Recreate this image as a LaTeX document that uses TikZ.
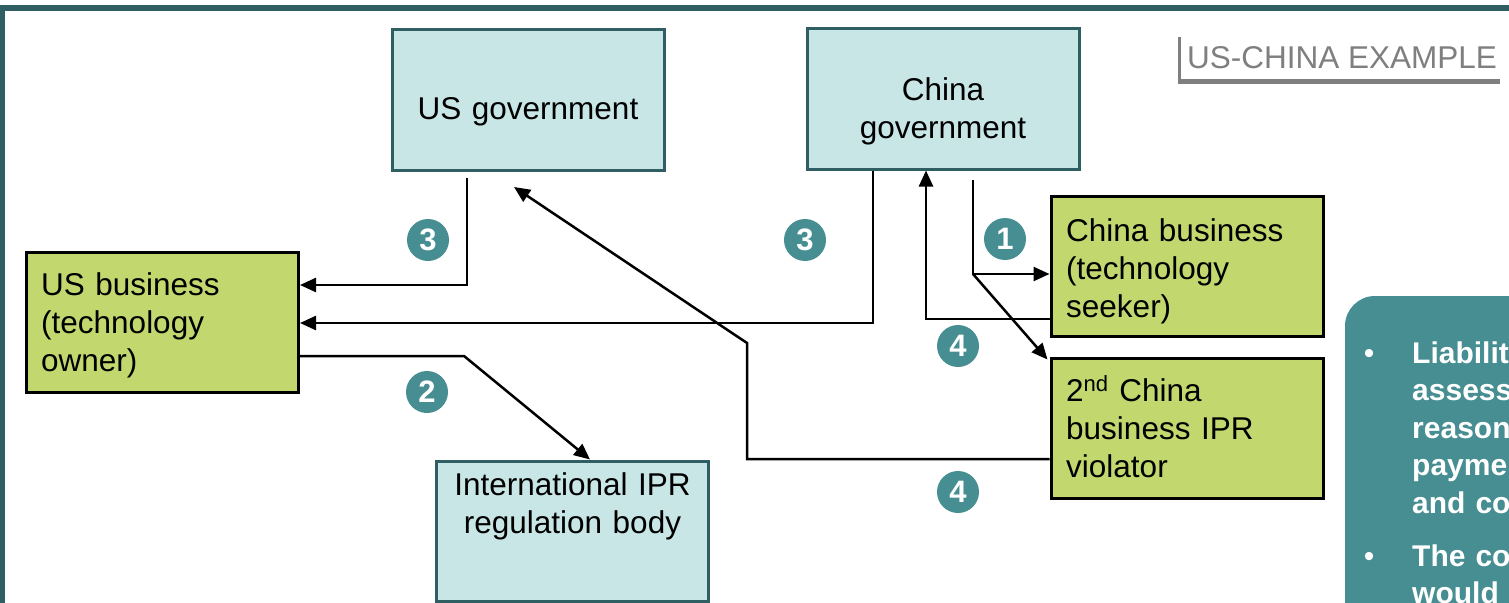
\documentclass[tikz,border=0pt]{standalone}
\usepackage{fontspec}
\setmainfont{Liberation Sans}
\usetikzlibrary{arrows.meta}
\definecolor{frameteal}{HTML}{2F5F63}
\definecolor{paleblue}{HTML}{C8E6E6}
\definecolor{leaf}{HTML}{C3D76F}
\definecolor{badgeteal}{HTML}{468E92}
\definecolor{tagray}{HTML}{7F7F7F}
\begin{document}
\begin{tikzpicture}[x=1pt,y=-1pt,
  govbox/.style={draw=frameteal, fill=paleblue, line width=3pt,
    minimum width=272pt, minimum height=140pt, inner sep=0pt},
  firmbox/.style={draw=black, fill=leaf, line width=3pt,
    minimum width=272pt, minimum height=140pt, inner sep=0pt},
  boxtext/.style={inner sep=0pt, text width=260pt,
    font=\fontsize{31.5}{38}\selectfont},
  badge/.style={circle, fill=badgeteal, minimum size=42pt, inner sep=0pt,
    text=white, font=\bfseries\fontsize{31}{31}\selectfont},
  arr/.style={draw=black, line width=2.5pt, line join=miter,
    -{Triangle[length=16pt,width=14pt]}},
  paneltext/.style={inner sep=0pt, text=white, text width=400pt, align=left,
    font=\bfseries\fontsize{30}{37.5}\selectfont},
]
\clip (0,0) rectangle (1509,602);
\fill[white] (0,0) rectangle (1509,602);

% outer frame
\draw[frameteal, line width=6pt] (2,640) -- (2,8) -- (1540,8);

% heading tag
\node[anchor=base west, inner sep=0pt, text=tagray,
  font=\fontsize{31.5}{38}\selectfont] (tag) at (1187,69) {US-CHINA EXAMPLE};
\draw[tagray, line width=3pt] (1179.5,37) -- (1179.5,81);
\fill[tagray] (1178,79) rectangle (1500,84);

% side panel
\fill[badgeteal, rounded corners=30pt] (1345,296) rectangle (1620,720);
\node[anchor=base, inner sep=0pt, text=white, font=\fontsize{30}{30}\selectfont] (bul1) at (1369,363) {\textbullet};
\node[anchor=base west, paneltext] (pan1) at (1412,363)
  {Liability\\assessment\\reasonable\\payment\\and compensation};
\node[anchor=base, inner sep=0pt, text=white, font=\fontsize{30}{30}\selectfont] (bul2) at (1369,566) {\textbullet};
\node[anchor=base west, paneltext] (pan2) at (1412,566)
  {The company\\would};

% boxes
\node[govbox] (usgov) at (528,100) {};
\node[govbox] (cngov) at (943,99) {};
\node[govbox] (ipr) at (572.5,531) {};
\node[firmbox] (usb) at (162.5,322) {};
\node[firmbox] (cnb) at (1187,266.5) {};
\node[firmbox] (cnb2) at (1187,428) {};

% box texts
\node[boxtext, align=center, anchor=base] (tusgov) at (528,119) {US government};
\node[boxtext, align=center, anchor=base] (tcngov) at (943,100) {China\\government};
\node[boxtext, align=center, anchor=base] (tipr) at (572.5,495) {International IPR\\regulation body};
\node[boxtext, align=left, anchor=base west] (tusb) at (41,295) {US business\\(technology\\owner)};
\node[boxtext, align=left, anchor=base west] (tcnb) at (1066,241) {China business\\(technology\\seeker)};
\node[boxtext, align=left, anchor=base west] (tcnb2) at (1066,401) {2\textsuperscript{nd} China\\business IPR\\violator};

% bend points
\coordinate (a3) at (467,178);
\coordinate (k3) at (467,285);
\coordinate (k2) at (873,323);
\coordinate (k2b) at (464,356);
\coordinate (ipra) at (590,0);
\coordinate (a1) at (973,180);
\coordinate (k1) at (973,274);
\coordinate (k4) at (926,319);
\coordinate (k5) at (747,459);
\coordinate (k5b) at (747,343);
\coordinate (k5c) at (514,187);

% connectors
\draw[arr] (a3) -- (k3) -- (k3 -| usb.east);
\draw[arr] (k2 |- cngov.south) -- (k2) -- (k2 -| usb.east);
\draw[arr] (k2b -| usb.east) -- (k2b) -- (ipra |- ipr.north);
\draw[arr] (a1) -- (k1) -- (k1 -| cnb.west);
\draw[arr] (k1) -- ([shift={(-2pt,-3pt)}]cnb2.north west);
\draw[arr] (k4 -| cnb.west) -- (k4) -- (k4 |- cngov.south);
\draw[arr] (k5 -| cnb2.west) -- (k5) -- (k5b) -- (k5c);

% step badges
\node[badge] (b3a) at (428,240) {3};
\node[badge] (b3b) at (805,240) {3};
\node[badge] (b1) at (1005,239) {1};
\node[badge] (b4a) at (958,346) {4};
\node[badge] (b2) at (427,392) {2};
\node[badge] (b4b) at (958,492) {4};
\end{tikzpicture}
\end{document}
